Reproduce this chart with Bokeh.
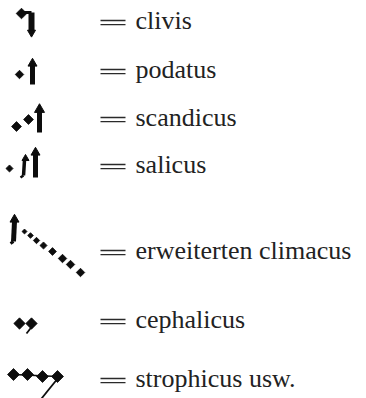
from bokeh.plotting import figure
from bokeh.models import Range1d, ColumnDataSource
from bokeh.embed import file_html
from bokeh.resources import INLINE
from bokeh.core.properties import value
import math

# ---- data ----
labels = ["clivis", "podatus", "scandicus", "salicus",
          "erweiterten climacus", "cephalicus", "strophicus usw."]
row_y = [22, 71, 119, 166, 252, 321, 380]   # x-height centre of each row

# neume components (relative to the row centre y): puncta (rotated squares)
punctum_x = [[21], [19], [16, 28], [9], [24, 30, 36, 43, 52, 62, 70, 80], [19, 31], [13, 27, 42, 57]]
punctum_dy = [[-9], [3], [7, 0], [2], [-21, -17, -12, -7, -1, 6, 12, 20], [2, 2], [-6, -6, -4, -4]]
punctum_size = [[7.5], [6], [7, 7], [5], [3.5, 4, 4.5, 5, 5.5, 6, 6, 6], [8, 8], [8.5, 8.5, 8.5, 8.5]]

TEXT_X = 135
EQ_X0, EQ_X1 = 100, 125

p = figure(width=366, height=398, x_range=Range1d(0, 366), y_range=Range1d(398, 0),
           output_backend="svg", toolbar_location=None, min_border=0,
           background_fill_color="white", border_fill_color="white")
p.outline_line_color = None
p.axis.visible = False
p.grid.visible = False

INK = "#0d0d0d"

# texts
tsrc = ColumnDataSource(dict(x=[TEXT_X] * len(labels), y=[y - 2.5 for y in row_y], t=labels))
p.text(x="x", y="y", text="t", source=tsrc, text_font=value("'Liberation Serif'"),
       text_font_size="26px", text_baseline="alphabetic", text_align="left", text_color="#222222")

# equals signs
eq_x0 = [EQ_X0] * len(labels) * 2
eq_x1 = [EQ_X1] * len(labels) * 2
eq_y = [y - 2 for y in row_y] + [y + 2.2 for y in row_y]
p.segment(x0=eq_x0, y0=eq_y, x1=eq_x1, y1=eq_y, line_color="#2a2a2a", line_width=1.3)

# puncta
px, py, ps = [], [], []
for xs, dys, ss, y in zip(punctum_x, punctum_dy, punctum_size, row_y):
    for x, dy, s in zip(xs, dys, ss):
        px.append(x); py.append(y + dy); ps.append(s)
p.scatter(x=px, y=py, size=ps, marker="square", angle=math.pi / 4,
          fill_color=INK, line_color=INK, line_width=0.8)

# strokes (virga stems, connectors, tails) relative to row centre
strokes = [
    # row, x0, dy0, x1, dy1, width
    (0, 21, -10, 31, -10, 3), (0, 31, -10, 31, 9, 6),
    (1, 32, -6, 32, 13, 5),
    (2, 39, -8, 39, 13, 5),
    (3, 24, -6, 23, 9, 3.5), (3, 23, 9, 20, 11, 2.5), (3, 35, -12, 35, 11, 5),
    (4, 14, -31, 13, -11, 5), (4, 13, -11, 10, -9, 3),
    (5, 33, 3, 26, 12, 1.8),
    (6, 13, -6, 57, -4, 1.4), (6, 58, -3, 41, 18, 1.8),
]
p.segment(x0=[s[1] for s in strokes], y0=[row_y[s[0]] + s[2] for s in strokes],
          x1=[s[3] for s in strokes], y1=[row_y[s[0]] + s[4] for s in strokes],
          line_width=[s[5] for s in strokes], line_color=INK, line_cap="butt")

# heads / feet of stems
heads = [(0, 31, 10, "inverted_triangle", 8), (1, 32, -8, "triangle", 9),
         (2, 39, -10, "triangle", 10), (3, 25, -8, "triangle", 7),
         (3, 35, -14, "triangle", 9), (4, 14, -33, "triangle", 9)]
p.scatter(x=[h[1] for h in heads], y=[row_y[h[0]] + h[2] for h in heads],
          marker=[h[3] for h in heads], size=[h[4] for h in heads],
          fill_color=INK, line_color=INK)

open("out.html", "w").write(file_html(p, INLINE))
